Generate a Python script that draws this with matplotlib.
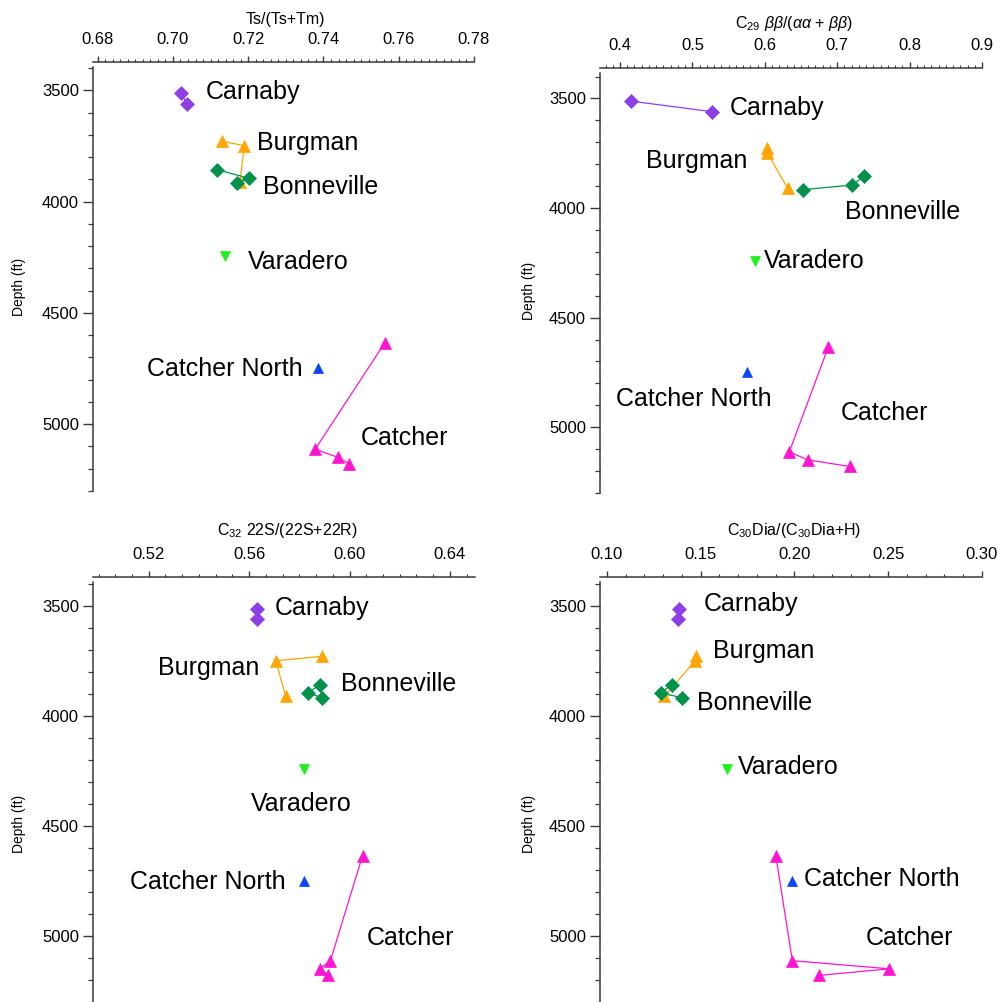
import matplotlib
matplotlib.use("Agg")
import matplotlib.pyplot as plt
from matplotlib.ticker import MultipleLocator, FormatStrFormatter

plt.rcParams["font.family"] = ["Liberation Sans", "DejaVu Sans"]
plt.rcParams["mathtext.fontset"] = "custom"
plt.rcParams["mathtext.rm"] = "Liberation Sans"
plt.rcParams["mathtext.it"] = "Liberation Sans:italic"

# ---------------- data ----------------
fields = ["Carnaby", "Burgman", "Bonneville", "Varadero", "Catcher North", "Catcher"]

carnaby_depth = [3512, 3560]
burgman_depth = [3728, 3748, 3910]
bonneville_depth = [3856, 3895, 3916]
varadero_depth = [4242]
catcher_north_depth = [4748]
catcher_depth = [4634, 5112, 5149, 5179]

# Ts/(Ts+Tm)
ts_carnaby = [0.7021, 0.7037]
ts_burgman = [0.7129, 0.7190, 0.7178]
ts_bonneville = [0.7118, 0.7203, 0.7169]
ts_varadero = [0.7138]
ts_catcher_north = [0.7386]
ts_catcher = [0.7563, 0.7378, 0.7439, 0.7469]

# C29 bb/(aa+bb)
c29_carnaby = [0.4148, 0.5267]
c29_burgman = [0.6026, 0.6035, 0.6316]
c29_bonneville = [0.7370, 0.7200, 0.6532]
c29_varadero = [0.5865]
c29_catcher_north = [0.5750]
c29_catcher = [0.6877, 0.6339, 0.6592, 0.7177]

# C32 22S/(22S+22R)
c32_carnaby = [0.5632, 0.5632]
c32_burgman = [0.5889, 0.5706, 0.5746]
c32_bonneville = [0.5882, 0.5835, 0.5891]
c32_varadero = [0.5819]
c32_catcher_north = [0.5819]
c32_catcher = [0.6052, 0.5924, 0.5882, 0.5915]

# C30Dia/(C30Dia+H)
c30_carnaby = [0.1385, 0.1382]
c30_burgman = [0.1476, 0.1471, 0.1307]
c30_bonneville = [0.1346, 0.1289, 0.1403]
c30_varadero = [0.1640]
c30_catcher_north = [0.1986]
c30_catcher = [0.1901, 0.1989, 0.2506, 0.2132]

depths = {
    "Carnaby": carnaby_depth, "Burgman": burgman_depth, "Bonneville": bonneville_depth,
    "Varadero": varadero_depth, "Catcher North": catcher_north_depth, "Catcher": catcher_depth,
}

# ---------------- styles ----------------
styles = {
    "Carnaby": dict(marker="D", color="#8C3FE6", ms=7.0),
    "Burgman": dict(marker="^", color="#FFA500", ms=8.5),
    "Bonneville": dict(marker="D", color="#00914A", ms=7.0),
    "Varadero": dict(marker="v", color="#1EF01E", ms=7.5),
    "Catcher North": dict(marker="^", color="#0A45FF", ms=7.8),
    "Catcher": dict(marker="^", color="#FF14D2", ms=9.0),
}

W, H = 1000, 1002
fig = plt.figure(figsize=(W / 100, H / 100), dpi=100)


def add_axes_px(left, top, right, bottom):
    return fig.add_axes([left / W, 1 - bottom / H, (right - left) / W, (bottom - top) / H])


panels = [
    dict(rect=(93, 62, 474, 491), xlim=(0.67875, 0.78), ytop=3372,
         major=0.02, minor=0.002, fmt="%.2f",
         title="Ts/(Ts+Tm)", title_xy=(0.504, 1.098), ylab_xy=(-0.176, 0.475),
         values=[ts_carnaby, ts_burgman, ts_bonneville, ts_varadero, ts_catcher_north, ts_catcher],
         labels={"Carnaby": (0.7088, 3506), "Burgman": (0.7223, 3738),
                 "Bonneville": (0.7239, 3932), "Varadero": (0.7199, 4272),
                 "Catcher North": (0.6931, 4752), "Catcher": (0.7498, 5062)}),
    dict(rect=(600, 68, 982, 493), xlim=(0.3724, 0.9), ytop=3361,
         major=0.1, minor=0.01, fmt="%.1f",
         title=r"C$_{29}$ $\beta\beta$/($\alpha\alpha$ + $\beta\beta$)",
         title_xy=(0.508, 1.104), ylab_xy=(-0.168, 0.475),
         values=[c29_carnaby, c29_burgman, c29_bonneville, c29_varadero, c29_catcher_north, c29_catcher],
         labels={"Carnaby": (0.5519, 3545), "Burgman": (0.4359, 3784),
                 "Bonneville": (0.7108, 4016), "Varadero": (0.5989, 4243),
                 "Catcher North": (0.3941, 4873), "Catcher": (0.7052, 4936)}),
    dict(rect=(93, 577, 475, 1002), xlim=(0.4978, 0.65), ytop=3367,
         major=0.04, minor=0.04 / 6, fmt="%.2f",
         title=r"C$_{32}$ 22S/(22S+22R)", title_xy=(0.508, 1.110), ylab_xy=(-0.176, 0.42),
         values=[c32_carnaby, c32_burgman, c32_bonneville, c32_varadero, c32_catcher_north, c32_catcher],
         labels={"Carnaby": (0.5702, 3508), "Burgman": (0.5237, 3780),
                 "Bonneville": (0.5968, 3854), "Varadero": (0.5609, 4398),
                 "Catcher North": (0.5124, 4752), "Catcher": (0.6068, 5010)}),
    dict(rect=(600, 577, 982, 1002), xlim=(0.0964, 0.30), ytop=3367,
         major=0.05, minor=0.01, fmt="%.2f",
         title=r"C$_{30}$Dia/(C$_{30}$Dia+H)", title_xy=(0.508, 1.110), ylab_xy=(-0.168, 0.42),
         values=[c30_carnaby, c30_burgman, c30_bonneville, c30_varadero, c30_catcher_north, c30_catcher],
         labels={"Carnaby": (0.1515, 3489), "Burgman": (0.1568, 3704),
                 "Bonneville": (0.1480, 3939), "Varadero": (0.1698, 4231),
                 "Catcher North": (0.2053, 4739), "Catcher": (0.2381, 5010)}),
]

axis_color = "#3a3a3a"

for p in panels:
    ax = add_axes_px(*p["rect"])
    ax.set_xlim(*p["xlim"])
    ax.set_ylim(5300, p["ytop"])

    for name, vals in zip(fields, p["values"]):
        st = styles[name]
        ax.plot(vals, depths[name], linestyle="-", linewidth=0.9, color=st["color"],
                marker=st["marker"], markersize=st["ms"], markerfacecolor=st["color"],
                markeredgecolor=st["color"], markeredgewidth=0.5, clip_on=False)
        lx, ly = p["labels"][name]
        ax.text(lx, ly, name, fontsize=18, ha="left", va="center", color="black")

    # Axes frame: top and left only, left spine detached from the top one
    ax.spines["right"].set_visible(False)
    ax.spines["bottom"].set_visible(False)
    for s in ("top", "left"):
        ax.spines[s].set_color(axis_color)
        ax.spines[s].set_linewidth(1.1)
    ax.spines["left"].set_bounds(5300, p["ytop"] + 22)

    ax.xaxis.tick_top()
    ax.xaxis.set_label_position("top")
    ax.xaxis.set_major_locator(MultipleLocator(p["major"]))
    ax.xaxis.set_minor_locator(MultipleLocator(p["minor"]))
    ax.xaxis.set_major_formatter(FormatStrFormatter(p["fmt"]))
    ax.yaxis.set_major_locator(MultipleLocator(500))
    ax.yaxis.set_minor_locator(MultipleLocator(100))

    ax.tick_params(axis="x", which="major", direction="out", length=4.5, width=1.0,
                   pad=6, labelsize=12, color=axis_color)
    ax.tick_params(axis="x", which="minor", direction="out", length=2.3, width=0.8,
                   color=axis_color)
    ax.tick_params(axis="y", which="major", direction="out", length=7, width=1.0,
                   pad=3, labelsize=12, color=axis_color)
    ax.tick_params(axis="y", which="minor", direction="out", length=3.6, width=0.9,
                   color=axis_color)

    ax.set_xlabel(p["title"], fontsize=11.5)
    ax.xaxis.label.set_va("center")
    ax.xaxis.set_label_coords(*p["title_xy"])
    ax.set_ylabel("Depth (ft)", fontsize=10)
    ax.yaxis.set_label_coords(*p["ylab_xy"])
    ax.patch.set_visible(False)

fig.savefig("out.png", dpi=100, facecolor="white")
